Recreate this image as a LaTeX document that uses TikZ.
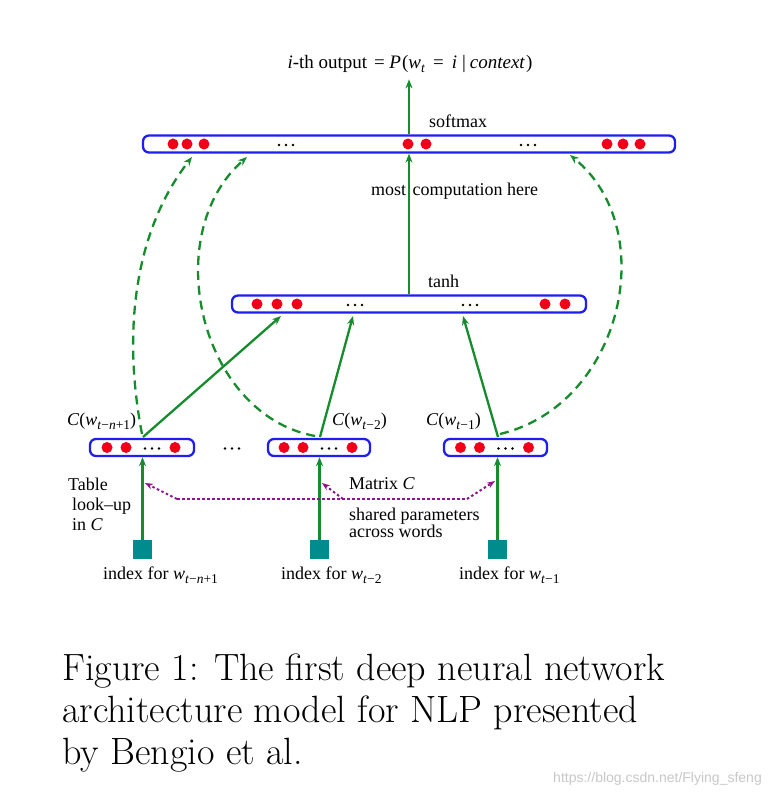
\documentclass[tikz,border=0pt]{standalone}
\usepackage{fontspec}
\newfontfamily\tms{Liberation Serif}
\newfontfamily\ars{Liberation Sans}
\usetikzlibrary{arrows.meta}
\definecolor{gr}{RGB}{22,140,45}
\definecolor{bl}{RGB}{30,30,240}
\definecolor{rd}{RGB}{240,0,25}
\definecolor{tl}{RGB}{0,140,140}
\definecolor{pu}{RGB}{140,20,140}
\tikzset{
  bar/.style={draw=bl, line width=2.3pt, rounded corners=6pt, minimum height=17pt, inner sep=0pt, fill=white},
  sq/.style={fill=tl, minimum width=19pt, minimum height=19pt, inner sep=0pt},
  txt/.style={font=\tms\fontsize{18}{20}\selectfont, inner sep=0pt},
  garrow/.style={draw=gr, line width=2.3pt, -{Stealth[length=9pt,width=7pt]}},
  gdash/.style={draw=gr, line width=2.3pt, dash pattern=on 9pt off 6pt, -{Stealth[length=9pt,width=7pt]}},
  parrow/.style={draw=pu, line width=2pt, dash pattern=on 2.5pt off 2.5pt, -{Stealth[length=8pt,width=6pt]}},
  pline/.style={draw=pu, line width=2pt, dash pattern=on 2.5pt off 2.5pt},
}
\newcommand\ellip[2]{\foreach \d in {-7,0,7} {\fill ({#1+\d},#2) circle (1.3pt);}}
\newcommand\sbs[1]{\raisebox{-4pt}{\fontsize{13.5}{14}\selectfont #1}}
\newcommand\capf{\fontsize{38}{46}\selectfont}
\begin{document}
\begin{tikzpicture}[x=1pt,y=-1pt]
\useasboundingbox (0,0) rectangle (772,794);

% bars
\node[bar, minimum width=532pt] (top) at (409,144) {};
\node[bar, minimum width=354pt] (mid) at (409,304) {};
\node[bar, minimum width=104pt] (b1) at (142,447.5) {};
\node[bar, minimum width=102pt] (b2) at (319,447.5) {};
\node[bar, minimum width=103pt] (b3) at (495.5,447.5) {};

% dots top
\foreach \x in {173,187,204,408,426,607,623,640} {\fill[rd] (\x,144) circle (5.5pt);}
\ellip{286}{145}
\ellip{528}{145}
% dots mid
\foreach \x in {257,277,297,545,565} {\fill[rd] (\x,304) circle (5.5pt);}
\ellip{355}{305}
\ellip{470}{305}
% dots bottom
\foreach \c in {142,319,495.5} {
  \fill[rd] ({\c-35},447.5) circle (5.5pt);
  \fill[rd] ({\c-16},447.5) circle (5.5pt);
  \fill[rd] ({\c+33},447.5) circle (5.5pt);
  \ellip{\c+10}{448.5}
}
\ellip{232}{448.5}

% squares
\node[sq] (s1) at (142.5,549.5) {};
\node[sq] (s2) at (319.5,549.5) {};
\node[sq] (s3) at (497.5,549.5) {};

% title and labels
\node[txt, anchor=base] (title) at (410,69) {\fontsize{19}{21}\selectfont\textit{i}-th output\hspace{2pt} = \textit{P}\hspace{1pt}(\textit{w}\sbs{\textit{t}}\hspace{8pt}=\hspace{8pt}\textit{i}\hspace{5pt}|\hspace{4pt}\textit{context}\hspace{1pt})};
\node[txt, anchor=base west] (softmax) at (429,128) {softmax};
\node[txt, anchor=base west] (most) at (371,196) {most\hspace{2pt} computation here};
\node[txt, anchor=base west] (tanh) at (428,287) {tanh};
\node[txt, anchor=base west] (c1) at (67,425) {\textit{C}(\textit{w}\sbs{\textit{t}−\textit{n}+1})};
\node[txt, anchor=base west] (c2) at (332,425) {\textit{C}(\textit{w}\sbs{\textit{t}−2})};
\node[txt, anchor=base west] (c3) at (426,425) {\textit{C}(\textit{w}\sbs{\textit{t}−1})};
\node[txt, anchor=base west] (tab1) at (68,490) {Table};
\node[txt, anchor=base west] (tab2) at (72,510) {look–up};
\node[txt, anchor=base west] (tab3) at (72,530) {in \textit{C}};
\node[txt, anchor=base west] (matrix) at (349,489) {Matrix \textit{C}};
\node[txt, anchor=base west] (shared1) at (349,520) {shared parameters};
\node[txt, anchor=base west] (shared2) at (349,537) {across words};
\node[txt, anchor=base west] (i1) at (103,579) {index for \textit{w}\sbs{\textit{t}−\textit{n}+1}};
\node[txt, anchor=base west] (i2) at (281,579) {index for \textit{w}\sbs{\textit{t}−2}};
\node[txt, anchor=base west] (i3) at (459,579) {index for \textit{w}\sbs{\textit{t}−1}};

% vertical arrows
\draw[garrow, shorten >=6pt] (top.north) -- (top.north |- title.south);
\draw[garrow] (mid.north) -- (top.south);
\draw[garrow] (s1.north) -- (b1.south -| s1.north);
\draw[garrow] (s2.north) -- (b2.south -| s2.north);
\draw[garrow] (s3.north) -- (b3.south -| s3.north);

% bottom to middle
\coordinate (m1) at (281,316);
\coordinate (m2) at (353,316);
\coordinate (m3) at (463,316);
\coordinate (p1) at (143,437);
\coordinate (p2) at (320,437);
\coordinate (p3) at (498,437);
\draw[garrow] (p1) -- (m1);
\draw[garrow] (p2) -- (m2);
\draw[garrow] (p3) -- (m3);

% dashed arcs
\coordinate (q1) at (142,434);
\coordinate (q2) at (315,436);
\coordinate (q3) at (500,434);
\coordinate (t1) at (192,157);
\coordinate (t2) at (247,157);
\coordinate (t3) at (570,155);
\draw[gdash] (q1) .. controls (122,330) and (135,230) .. (t1);
\draw[gdash] (q2) .. controls (200,415) and (158,235) .. (t2);
\draw[gdash] (q3) .. controls (622,405) and (662,230) .. (t3);

% shared parameters (purple)
\coordinate (h1) at (177,499);
\coordinate (h2) at (343,499);
\coordinate (h3) at (467,499);
\coordinate (a1) at (145,483);
\coordinate (a2) at (322,483);
\coordinate (a3) at (495,481);
\draw[pline] (h1) -- (h3);
\draw[parrow] (h1) -- (a1);
\draw[parrow] (h2) -- (a2);
\draw[parrow] (h3) -- (a3);

% caption
\node[anchor=base west, inner sep=0pt, font=\capf] (cap1) at (62,680) {Figure 1: The first deep neural network};
\node[anchor=base west, inner sep=0pt, font=\capf] (cap2) at (62,722) {architecture model for NLP presented};
\node[anchor=base west, inner sep=0pt, font=\capf] (cap3) at (62,764) {by Bengio et al.};
\node[anchor=base east, inner sep=0pt, text=black!22, font=\ars\fontsize{14}{16}\selectfont] (wm) at (762,782) {https://blog.csdn.net/Flying\_sfeng};
\end{tikzpicture}
\end{document}
